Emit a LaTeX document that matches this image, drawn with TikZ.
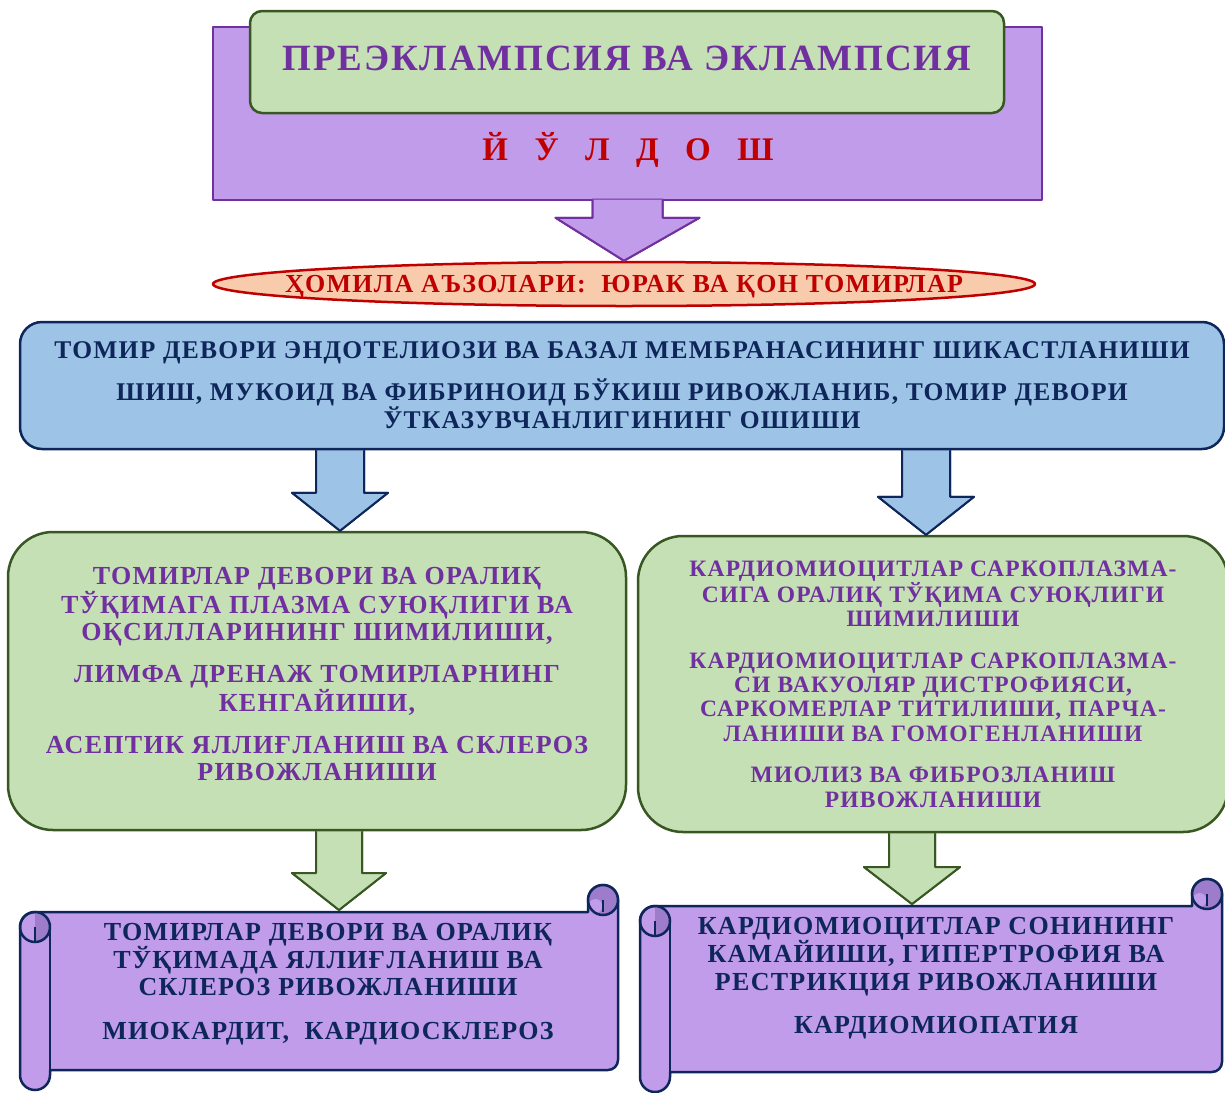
\documentclass[tikz,border=0pt]{standalone}
\usepackage{fontspec}
\setmainfont{Liberation Serif}
\newfontfamily\widefont[LetterSpace=5]{Liberation Serif}
\usetikzlibrary{positioning, calc, shapes.geometric}

\definecolor{lilac}{HTML}{C09CEA}
\definecolor{plum}{HTML}{7030A0}
\definecolor{sage}{HTML}{C5E0B4}
\definecolor{moss}{HTML}{385723}
\definecolor{crimson}{HTML}{C00000}
\definecolor{peach}{HTML}{F8CBAD}
\definecolor{sky}{HTML}{9DC3E6}
\definecolor{navy}{HTML}{0E2659}
\definecolor{curl}{HTML}{9C7CCB}

% block arrow pointing down: style, top, tip, stem half width, head half width, head length
\newcommand{\blockdown}[6]{%
  \fill[#1] let \p1=(#2), \p2=(#3) in
    (\x1-#4pt,\y1) -- (\x1+#4pt,\y1) -- (\x1+#4pt,\y2+#6pt) -- (\x1+#5pt,\y2+#6pt)
    -- (\x2,\y2) -- (\x1-#5pt,\y2+#6pt) -- (\x1-#4pt,\y2+#6pt) -- cycle;
  \draw[#1] let \p1=(#2), \p2=(#3) in
    (\x1-#4pt,\y1) -- (\x1-#4pt,\y2+#6pt) -- (\x1-#5pt,\y2+#6pt) -- (\x2,\y2)
    -- (\x1+#5pt,\y2+#6pt) -- (\x1+#4pt,\y2+#6pt) -- (\x1+#4pt,\y1);
}

\begin{document}
\begin{tikzpicture}[x=1pt, y=-1pt, line join=round,
  every node/.style={inner sep=0pt},
  framebox/.style={draw=plum, line width=2pt, fill=lilac, minimum width=829pt, minimum height=173pt},
  titlebox/.style={draw=moss, line width=2.5pt, fill=sage, rounded corners=12pt,
    minimum width=754pt, minimum height=102pt, text=plum, font=\widefont\bfseries\fontsize{37}{40}\selectfont},
  organbox/.style={ellipse, draw=crimson, line width=2.5pt, fill=peach, minimum width=822pt, minimum height=44pt},
  organtext/.style={text=crimson, font=\widefont\bfseries\fontsize{26}{28}\selectfont},
  wallbox/.style={draw=navy, line width=2.5pt, fill=sky, rounded corners=22pt, minimum width=1204pt,
    minimum height=127pt, align=center, text=navy, font=\widefont\bfseries\fontsize{25.5}{27}\selectfont},
  effectbox/.style={draw=moss, line width=2.5pt, fill=sage, rounded corners=45pt},
  plumtext/.style={align=center, text=plum, font=\widefont\bfseries\fontsize{26}{27}\selectfont},
  scrollline/.style={draw=navy, line width=2.5pt},
  scrolltext/.style={align=center, text=navy, font=\widefont\bfseries\fontsize{26}{27}\selectfont},
  purplearrow/.style={draw=plum, line width=2pt, fill=lilac},
  bluearrow/.style={draw=navy, line width=2pt, fill=sky},
  greenarrow/.style={draw=moss, line width=2pt, fill=sage}]
\clip (0,0) rectangle (1225,1092);

% top block with the placenta
\node[framebox] (frame) at (627.5,113.5) {};
\node[organbox] (organs) at (624,284) {};
\node[organtext] (organslabel) at ($(organs.center)+(0,3)$) {ҲОМИЛА АЪЗОЛАРИ:\ \ ЮРАК ВА ҚОН ТОМИРЛАР};
\blockdown{purplearrow}{$(frame.south)+(0,-1.5)$}{organs.north}{35}{72}{43}
\node[titlebox] (title) at (627,62) {\raisebox{7pt}{ПРЕЭКЛАМПСИЯ ВА ЭКЛАМПСИЯ}};
\node[text=crimson, font=\bfseries\fontsize{33}{36}\selectfont] (placenta) at (628,150)
  {Й\hspace{0.8em}Ў\hspace{0.8em}Л\hspace{0.8em}Д\hspace{0.8em}О\hspace{0.8em}Ш};

% vessel wall damage
\node[wallbox] (wall) at (622,385.5) {ТОМИР ДЕВОРИ ЭНДОТЕЛИОЗИ ВА БАЗАЛ МЕМБРАНАСИНИНГ ШИКАСТЛАНИШИ\\[14pt]
  ШИШ, МУКОИД ВА ФИБРИНОИД БЎКИШ РИВОЖЛАНИБ, ТОМИР ДЕВОРИ\\
  ЎТКАЗУВЧАНЛИГИНИНГ ОШИШИ};

% two branches
\node[effectbox, minimum width=618pt, minimum height=298pt] (vessels) at (317,681) {};
\node[plumtext] (vesselstext) at ($(vessels.center)+(0,-7)$)
  {ТОМИРЛАР ДЕВОРИ ВА ОРАЛИҚ\\ ТЎҚИМАГА ПЛАЗМА СУЮҚЛИГИ ВА\\ ОҚСИЛЛАРИНИНГ ШИМИЛИШИ,\\[15pt]
   ЛИМФА ДРЕНАЖ ТОМИРЛАРНИНГ\\ КЕНГАЙИШИ,\\[15pt]
   АСЕПТИК ЯЛЛИҒЛАНИШ ВА СКЛЕРОЗ\\ РИВОЖЛАНИШИ};
\node[effectbox, minimum width=590pt, minimum height=296pt] (myocytes) at (933,684) {};
\node[plumtext, font=\widefont\bfseries\fontsize{23.5}{24.3}\selectfont] (myocytestext) at (myocytes.center)
  {КАРДИОМИОЦИТЛАР САРКОПЛАЗМА-\\ СИГА ОРАЛИҚ ТЎҚИМА СУЮҚЛИГИ\\ ШИМИЛИШИ\\[17.5pt]
   КАРДИОМИОЦИТЛАР САРКОПЛАЗМА-\\ СИ ВАКУОЛЯР ДИСТРОФИЯСИ,\\ САРКОМЕРЛАР ТИТИЛИШИ, ПАРЧА-\\
   ЛАНИШИ ВА ГОМОГЕНЛАНИШИ\\[17.5pt]
   МИОЛИЗ ВА ФИБРОЗЛАНИШ\\ РИВОЖЛАНИШИ};

% columns of the arrows
\coordinate (lblue) at (340,0);
\coordinate (rblue) at (926,0);
\coordinate (lgreen) at (339,0);
\coordinate (rgreen) at (912,0);
\coordinate (lscroll) at (339,910);
\coordinate (rscroll) at (912,904);

\blockdown{bluearrow}{wall.south -| lblue}{vessels.north -| lblue}{24}{48}{38}
\blockdown{bluearrow}{wall.south -| rblue}{myocytes.north -| rblue}{24}{48}{38}

% scrolls
\foreach \xa/\ya/\xb/\yb in {20/885/618/1090, 640/879/1222/1092} {
  \draw[scrollline, fill=lilac] (\xa+30,\yb-20) -- (\xb-10,\yb-20) arc[start angle=270, end angle=360, radius=10pt]
    -- (\xb,\ya+15) arc[start angle=0, end angle=180, radius=15pt] -- (\xb-30,\ya+27)
    -- (\xa+15,\ya+27) arc[start angle=90, end angle=180, radius=15pt] -- (\xa,\yb-15)
    arc[start angle=180, end angle=360, radius=15pt] -- cycle;
  % top right curl
  \fill[curl] (\xb-15,\ya+15) circle[radius=15pt];
  \fill[lilac] (\xb-22.5,\ya+21) circle[radius=7pt];
  \draw[scrollline] (\xb-15,\ya+15) circle[radius=15pt];
  \draw[scrollline] (\xb-15,\ya+15) -- (\xb-15,\ya+27);
  % bottom left curl
  \fill[curl] (\xa+15,\ya+27) arc[start angle=90, end angle=-90, radius=15pt] -- cycle;
  \draw[scrollline] (\xa+15,\ya+42) circle[radius=15pt];
  \draw[scrollline] (\xa+15,\ya+42) -- (\xa+15,\ya+57);
  \draw[scrollline] (\xa+30,\ya+42) -- (\xa+30,\yb-20);
}
\node[scrolltext, font=\widefont\bfseries\fontsize{26}{26.5}\selectfont] (lscrolltext) at (328,984)
  {ТОМИРЛАР ДЕВОРИ ВА ОРАЛИҚ\\ ТЎҚИМАДА ЯЛЛИҒЛАНИШ ВА\\ СКЛЕРОЗ РИВОЖЛАНИШИ\\[17.5pt]
   МИОКАРДИТ,\ \ КАРДИОСКЛЕРОЗ};
\node[scrolltext, font=\widefont\bfseries\fontsize{26}{28}\selectfont] (rscrolltext) at (936,978)
  {КАРДИОМИОЦИТЛАР СОНИНИНГ\\ КАМАЙИШИ, ГИПЕРТРОФИЯ ВА\\ РЕСТРИКЦИЯ РИВОЖЛАНИШИ\\[15pt]
   КАРДИОМИОПАТИЯ};

\blockdown{greenarrow}{vessels.south -| lgreen}{lscroll}{23}{47}{37}
\blockdown{greenarrow}{myocytes.south -| rgreen}{rscroll}{23}{48}{37}
\end{tikzpicture}
\end{document}
